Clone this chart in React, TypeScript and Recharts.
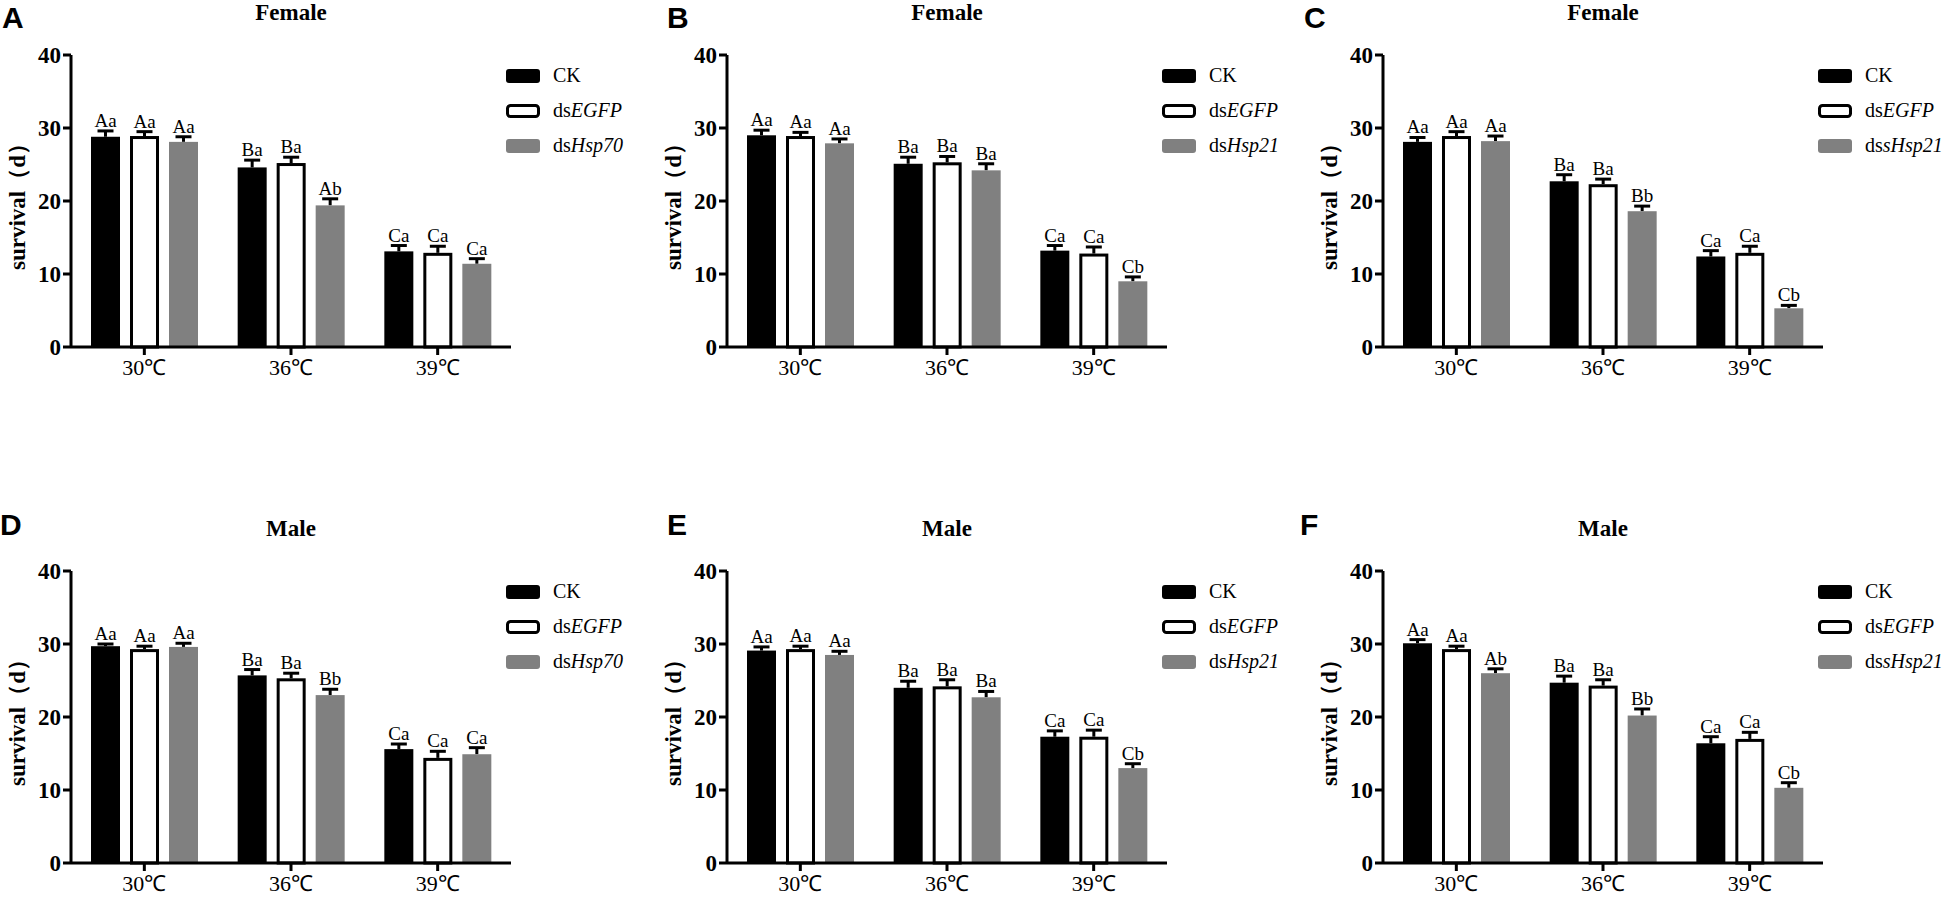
import { BarChart, Bar, XAxis, YAxis, Legend } from 'recharts'

const categories = ['30℃', '36℃', '39℃']
const yTicks = [0, 10, 20, 30, 40]

// rows: CK, dsEGFP, ds(s)Hsp ; columns: 30℃, 36℃, 39℃
const meansA = [[28.8, 24.6, 13.1], [28.9, 25.2, 12.9], [28.1, 19.4, 11.4]]
const errorsA = [[0.8, 1.0, 0.8], [0.6, 0.8, 0.9], [0.7, 0.9, 0.7]]
const lettersA = [['Aa', 'Ba', 'Ca'], ['Aa', 'Ba', 'Ca'], ['Aa', 'Ab', 'Ca']]
const legendA = [['CK', ''], ['ds', 'EGFP'], ['ds', 'Hsp70']]

const meansB = [[29.0, 25.1, 13.2], [28.9, 25.3, 12.8], [27.9, 24.2, 9.0]]
const errorsB = [[0.7, 0.9, 0.7], [0.5, 0.8, 0.9], [0.6, 0.9, 0.6]]
const lettersB = [['Aa', 'Ba', 'Ca'], ['Aa', 'Ba', 'Ca'], ['Aa', 'Ba', 'Cb']]
const legendB = [['CK', ''], ['ds', 'EGFP'], ['ds', 'Hsp21']]

const meansC = [[28.1, 22.7, 12.4], [28.9, 22.3, 12.9], [28.2, 18.6, 5.3]]
const errorsC = [[0.6, 0.9, 0.8], [0.6, 0.7, 0.9], [0.7, 0.7, 0.4]]
const lettersC = [['Aa', 'Ba', 'Ca'], ['Aa', 'Ba', 'Ca'], ['Aa', 'Bb', 'Cb']]
const legendC = [['CK', ''], ['ds', 'EGFP'], ['ds', 'sHsp21']]

const meansD = [[29.7, 25.7, 15.6], [29.3, 25.3, 14.4], [29.6, 23.0, 14.9]]
const errorsD = [[0.3, 0.8, 0.7], [0.4, 0.7, 0.9], [0.5, 0.8, 0.9]]
const lettersD = [['Aa', 'Ba', 'Ca'], ['Aa', 'Ba', 'Ca'], ['Aa', 'Bb', 'Ca']]
const legendD = [['CK', ''], ['ds', 'EGFP'], ['ds', 'Hsp70']]

const meansE = [[29.1, 24.0, 17.3], [29.3, 24.2, 17.3], [28.5, 22.7, 13.0]]
const errorsE = [[0.5, 0.9, 0.8], [0.4, 0.9, 0.9], [0.5, 0.8, 0.6]]
const lettersE = [['Aa', 'Ba', 'Ca'], ['Aa', 'Ba', 'Ca'], ['Aa', 'Ba', 'Cb']]
const legendE = [['CK', ''], ['ds', 'EGFP'], ['ds', 'Hsp21']]

const meansF = [[30.1, 24.7, 16.4], [29.3, 24.3, 17.0], [26.0, 20.2, 10.3]]
const errorsF = [[0.5, 0.9, 0.9], [0.4, 0.8, 0.9], [0.6, 0.9, 0.7]]
const lettersF = [['Aa', 'Ba', 'Ca'], ['Aa', 'Ba', 'Ca'], ['Ab', 'Bb', 'Cb']]
const legendF = [['CK', ''], ['ds', 'EGFP'], ['ds', 'sHsp21']]

const serif = "'Liberation Serif', 'Times New Roman', serif"
const fills = ['#000000', '#ffffff', '#808080']

const panels = [
  { id: 'A', title: 'Female', means: meansA, errors: errorsA, letters: lettersA, legend: legendA, left: 0, top: 0, lx: 2, ly: 28 },
  { id: 'B', title: 'Female', means: meansB, errors: errorsB, letters: lettersB, legend: legendB, left: 656, top: 0, lx: 667, ly: 28 },
  { id: 'C', title: 'Female', means: meansC, errors: errorsC, letters: lettersC, legend: legendC, left: 1312, top: 0, lx: 1304, ly: 28 },
  { id: 'D', title: 'Male', means: meansD, errors: errorsD, letters: lettersD, legend: legendD, left: 0, top: 516, lx: 0, ly: 535 },
  { id: 'E', title: 'Male', means: meansE, errors: errorsE, letters: lettersE, legend: legendE, left: 656, top: 516, lx: 667, ly: 535 },
  { id: 'F', title: 'Male', means: meansF, errors: errorsF, letters: lettersF, legend: legendF, left: 1312, top: 516, lx: 1300, ly: 535 },
]

function makeShape(s: number) {
  return (props: any) => {
    const { x, y, width, height, payload } = props
    const v = payload[`v${s}`]
    const e = payload[`e${s}`]
    const pxPerUnit = v ? height / v : 0
    const top = y - e * pxPerUnit
    const cx = x + width / 2
    return (
      <g>
        <line x1={cx} x2={cx} y1={y} y2={top} stroke="#000" strokeWidth={3} />
        <line x1={cx - 8} x2={cx + 8} y1={top} y2={top} stroke="#000" strokeWidth={3} />
        {s === 1 ? (
          <rect x={x + 1.5} y={y + 1.5} width={width - 3} height={height - 1.5} fill="#fff" stroke="#000" strokeWidth={3} />
        ) : (
          <rect x={x} y={y} width={width} height={height} fill={fills[s]} />
        )}
        <text x={cx} y={top - 4} textAnchor="middle" fontSize={19} fontFamily={serif} fill="#000">
          {payload[`l${s}`]}
        </text>
      </g>
    )
  }
}

const yLabel = (props: any) => {
  const { viewBox } = props
  const cx = viewBox.x + 17
  const cy = viewBox.y + viewBox.height / 2
  return (
    <text
      x={cx}
      y={cy}
      transform={`rotate(-90 ${cx} ${cy})`}
      textAnchor="middle"
      dominantBaseline="central"
      fontFamily={serif}
      fontWeight="bold"
      fontSize={23}
      fill="#000"
    >
      survival（d）
    </text>
  )
}

function LegendBox({ items }: { items: string[][] }) {
  return (
    <div style={{ fontFamily: serif, fontSize: 20, color: '#000' }}>
      {items.map((it, s) => (
        <div key={s} style={{ display: 'flex', alignItems: 'center', height: 35 }}>
          <svg width={34} height={14} style={{ marginRight: 13, flex: 'none' }}>
            {s === 1 ? (
              <rect x={1.5} y={1.5} width={31} height={11} rx={3} fill="#fff" stroke="#000" strokeWidth={3} />
            ) : (
              <rect x={0} y={0} width={34} height={14} rx={3} fill={fills[s]} />
            )}
          </svg>
          <span style={{ whiteSpace: 'nowrap' }}>
            {it[0]}
            <i>{it[1]}</i>
          </span>
        </div>
      ))}
    </div>
  )
}

function Panel({ p }: { p: (typeof panels)[number] }) {
  const data = categories.map((c, i) => ({
    cat: c,
    v0: p.means[0][i], v1: p.means[1][i], v2: p.means[2][i],
    e0: p.errors[0][i], e1: p.errors[1][i], e2: p.errors[2][i],
    l0: p.letters[0][i], l1: p.letters[1][i], l2: p.letters[2][i],
  }))
  return (
    <div style={{ position: 'absolute', left: p.left, top: p.top }}>
      <BarChart
        width={636}
        height={382}
        data={data}
        margin={{ top: 55, right: 125, bottom: 0, left: 0 }}
        barCategoryGap={20}
        barGap={10}
      >
        <XAxis
          dataKey="cat"
          height={35}
          tickSize={8}
          tickMargin={4}
          axisLine={{ stroke: '#000', strokeWidth: 3 }}
          tickLine={{ stroke: '#000', strokeWidth: 3 }}
          tick={{ fill: '#000', fontSize: 22, fontFamily: serif }}
        />
        <YAxis
          type="number"
          domain={[0, 40]}
          ticks={yTicks}
          width={71}
          tickSize={8}
          tickMargin={2}
          axisLine={{ stroke: '#000', strokeWidth: 3 }}
          tickLine={{ stroke: '#000', strokeWidth: 3 }}
          tick={{ fill: '#000', fontSize: 23, fontWeight: 'bold', fontFamily: serif }}
          label={yLabel}
        />
        <Legend
          layout="vertical"
          align="center"
          verticalAlign="middle"
          wrapperStyle={{ position: 'absolute', left: 506, top: 58, width: 130 }}
          content={() => <LegendBox items={p.legend} />}
        />
        <Bar dataKey="v0" isAnimationActive={false} shape={makeShape(0)} />
        <Bar dataKey="v1" isAnimationActive={false} shape={makeShape(1)} />
        <Bar dataKey="v2" isAnimationActive={false} shape={makeShape(2)} />
      </BarChart>
    </div>
  )
}

export default function App() {
  return (
    <div style={{ position: 'absolute', left: 0, top: 0, width: 1950, height: 898, overflow: 'hidden', background: '#fff' }}>
      {panels.map((p) => (
        <Panel key={p.id} p={p} />
      ))}
      <svg width={1950} height={898} style={{ position: 'absolute', left: 0, top: 0, pointerEvents: 'none' }}>
        {panels.map((p) => (
          <g key={p.id}>
            <text x={p.left + 291} y={p.top + 20} textAnchor="middle" fontFamily={serif} fontWeight="bold" fontSize={23} fill="#000">
              {p.title}
            </text>
            <text x={p.lx} y={p.ly} fontFamily="'Liberation Sans', Arial, sans-serif" fontWeight="bold" fontSize={30} fill="#000">
              {p.id}
            </text>
          </g>
        ))}
      </svg>
    </div>
  )
}
